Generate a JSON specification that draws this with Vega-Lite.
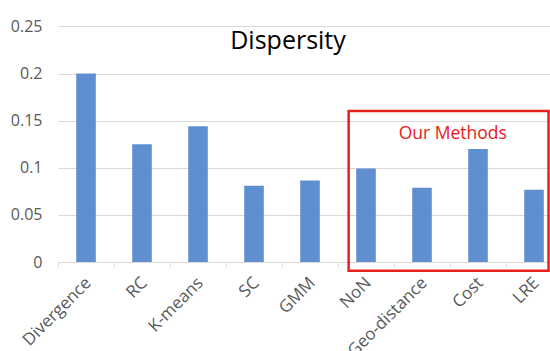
{
  "$schema": "https://vega.github.io/schema/vega-lite/v6.json",
  "autosize": {"type": "none"},
  "width": 492,
  "height": 245,
  "padding": {"left": 58, "top": 17, "right": 0, "bottom": 89},
  "background": "white",
  "config": {"view": {"stroke": null}, "font": "Open Sans"},
  "title": {
    "text": "Dispersity",
    "fontSize": 25,
    "font": "Open Sans",
    "fontWeight": "normal",
    "color": "#000000",
    "anchor": "middle",
    "frame": "group",
    "baseline": "alphabetic",
    "offset": 0,
    "dx": -16,
    "dy": 57
  },
  "data": {
    "values": [
      {"method": "Divergence", "dispersity": 0.2},
      {"method": "RC", "dispersity": 0.125},
      {"method": "K-means", "dispersity": 0.144},
      {"method": "SC", "dispersity": 0.081},
      {"method": "GMM", "dispersity": 0.0866},
      {"method": "NoN", "dispersity": 0.0992},
      {"method": "Geo-distance", "dispersity": 0.0788},
      {"method": "Cost", "dispersity": 0.12},
      {"method": "LRE", "dispersity": 0.0767}
    ]
  },
  "layer": [
    {
      "mark": {"type": "bar", "color": "#5F8FD0", "width": {"band": 0.35}},
      "encoding": {
        "x": {
          "field": "method",
          "type": "nominal",
          "sort": null,
          "scale": {
            "domain": ["Divergence", "RC", "K-means", "SC", "GMM", "NoN", "Geo-distance", "Cost", "LRE"],
            "range": [0, 504],
            "paddingInner": 0,
            "paddingOuter": 0
          },
          "axis": {
            "title": null,
            "labelAngle": -45,
            "labelAlign": "right",
            "labelBaseline": "middle",
            "labelFontSize": 17,
            "labelFont": "Open Sans",
            "labelColor": "#595959",
            "labelPadding": 13,
            "labelOffset": 2,
            "labelOverlap": false,
            "tickBand": "extent",
            "ticks": true,
            "tickSize": 5,
            "tickColor": "#D9D9D9",
            "domainColor": "#D9D9D9",
            "grid": false
          }
        },
        "y": {
          "field": "dispersity",
          "type": "quantitative",
          "scale": {"domain": [0, 0.25]},
          "axis": {
            "title": null,
            "values": [0, 0.05, 0.1, 0.15, 0.2, 0.25],
            "format": ".2~f",
            "labelFontSize": 16,
            "labelFont": "Open Sans",
            "labelColor": "#595959",
            "labelPadding": 16,
            "ticks": false,
            "domain": false,
            "grid": true,
            "gridColor": "#D9D9D9",
            "gridWidth": 1
          }
        }
      }
    },
    {
      "data": {"values": [{"first": "NoN", "last": "LRE", "top": 0.1603, "bottom": -0.0092}]},
      "mark": {"type": "rect", "fillOpacity": 0, "stroke": "#E8201C", "strokeWidth": 2.5},
      "encoding": {
        "x": {"field": "first", "type": "nominal", "bandPosition": 0.19},
        "x2": {"field": "last", "bandPosition": 0.76},
        "y": {"field": "top", "type": "quantitative"},
        "y2": {"field": "bottom"}
      }
    },
    {
      "data": {"values": [{"method": "Cost", "level": 0.1303, "label": "Our Methods"}]},
      "mark": {"type": "text", "color": "#E8201C", "fontSize": 17.5, "font": "Open Sans", "baseline": "alphabetic", "align": "center"},
      "encoding": {
        "x": {"field": "method", "type": "nominal", "bandPosition": 0.05},
        "y": {"field": "level", "type": "quantitative"},
        "text": {"field": "label"}
      }
    }
  ]
}
